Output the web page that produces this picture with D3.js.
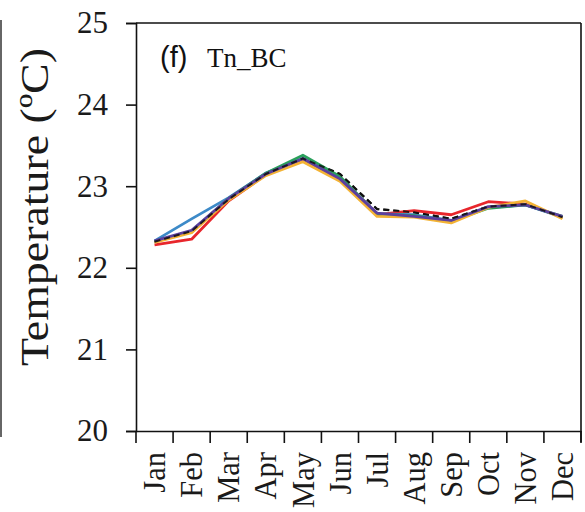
<!DOCTYPE html>
<html><head><meta charset="utf-8">
<script src="https://cdn.jsdelivr.net/npm/d3@7"></script>
<style>html,body{margin:0;padding:0;background:#fff;}svg{display:block;}</style>
</head><body>
<svg id="chart" width="585" height="512"></svg>
<script>
const months = ["Jan","Feb","Mar","Apr","May","Jun","Jul","Aug","Sep","Oct","Nov","Dec"];
const yTicks = [20,21,22,23,24,25];
const obs    = [22.32,22.45,22.84,23.15,23.34,23.15,22.72,22.68,22.60,22.75,22.78,22.62];
const red    = [22.28,22.35,22.82,23.14,23.33,23.08,22.65,22.70,22.65,22.81,22.78,22.62];
const blue   = [22.33,22.60,22.86,23.16,23.34,23.10,22.66,22.65,22.58,22.74,22.77,22.62];
const green  = [22.32,22.45,22.85,23.16,23.38,23.12,22.66,22.64,22.57,22.73,22.77,22.63];
const orange = [22.31,22.43,22.83,23.13,23.30,23.06,22.63,22.62,22.55,22.74,22.82,22.60];
const purple = [22.33,22.46,22.85,23.15,23.34,23.09,22.67,22.63,22.58,22.75,22.77,22.63];
const seriesNames = ["red","blue","green","orange","purple","obs"];
const seriesValues = [red, blue, green, orange, purple, obs];
const seriesColors = ["#e8262c","#3d8ac8","#2aa05c","#f3b335","#5b3f9e","#111"];

const svg = d3.select("#chart");
const L = 136, R = 581, T = 23, B = 431;
const x = d3.scaleBand().domain(months).range([L, R]);
const y = d3.scaleLinear().domain([20, 25]).range([B, T]);
const serif = "'Liberation Serif','Times New Roman',serif";
const sans = "'Liberation Sans',Arial,sans-serif";

svg.append("line").attr("x1",1).attr("x2",1).attr("y1",20).attr("y2",437)
  .attr("stroke","#666").attr("stroke-width",2);

svg.append("line").attr("x1",L).attr("x2",R).attr("y1",T).attr("y2",T).attr("stroke","#111").attr("stroke-width",1.6);
svg.append("line").attr("x1",R).attr("x2",R).attr("y1",T).attr("y2",B+11).attr("stroke","#111").attr("stroke-width",1.6);

const yAxis = svg.append("g").attr("transform",`translate(${L},0)`)
  .call(d3.axisLeft(y).tickValues(yTicks).tickSize(10).tickPadding(18).tickFormat(d3.format("d")));
yAxis.select(".domain").attr("stroke","#111").attr("stroke-width",1.6);
yAxis.selectAll(".tick line").attr("stroke","#111").attr("stroke-width",1.6);
yAxis.selectAll("text").attr("font-family",serif).attr("font-size",31).attr("fill","#1a1a1a");

const xAxis = svg.append("g").attr("transform",`translate(0,${B})`)
  .call(d3.axisBottom(x).tickSize(0).tickPadding(0));
xAxis.select(".domain").attr("stroke","#111").attr("stroke-width",1.6);
const bounds = months.map((m)=>x(m)).concat([R]);
xAxis.selectAll(".bt").data(bounds).enter().append("line").attr("class","bt")
  .attr("x1",d=>d).attr("x2",d=>d).attr("y1",0).attr("y2",12)
  .attr("stroke","#111").attr("stroke-width",1.6);
xAxis.selectAll(".tick text")
  .attr("font-family",serif).attr("font-size",30.5).attr("fill","#1a1a1a")
  .attr("text-anchor","end").attr("dy","0.35em")
  .attr("transform","translate(0,21) rotate(-90)").attr("x",0).attr("y",0);

svg.append("text").attr("transform","translate(48,207) rotate(-90)")
  .attr("text-anchor","middle").attr("font-family",serif).attr("font-size",41).attr("fill","#1a1a1a")
  .attr("textLength",318).attr("lengthAdjust","spacingAndGlyphs")
  .text("Temperature (ºC)");

svg.append("text").attr("x",160).attr("y",67).attr("font-family",sans).attr("font-size",29).attr("fill","#111")
  .text("(f)");
svg.append("text").attr("x",207).attr("y",67).attr("font-family",serif).attr("font-size",27).attr("fill","#111")
  .text("Tn_BC");

const line = d3.line().x((d,i)=>x(months[i]) + x.bandwidth()/2).y(d=>y(d));
const order = [5,0,1,2,3,4];
order.forEach(k=>{
  svg.append("path").datum(seriesValues[k]).attr("d",line)
    .attr("fill","none").attr("stroke",seriesColors[k])
    .attr("stroke-width", k===5 ? 2.2 : 2.8)
    .attr("stroke-dasharray", k===5 ? "6,4" : null)
    .attr("stroke-linejoin","round");
});
svg.append("path").datum(obs).attr("d",line).attr("fill","none").attr("stroke","#111")
  .attr("stroke-width",2).attr("stroke-dasharray","6,4").attr("opacity",0.85);
</script>
</body></html>
